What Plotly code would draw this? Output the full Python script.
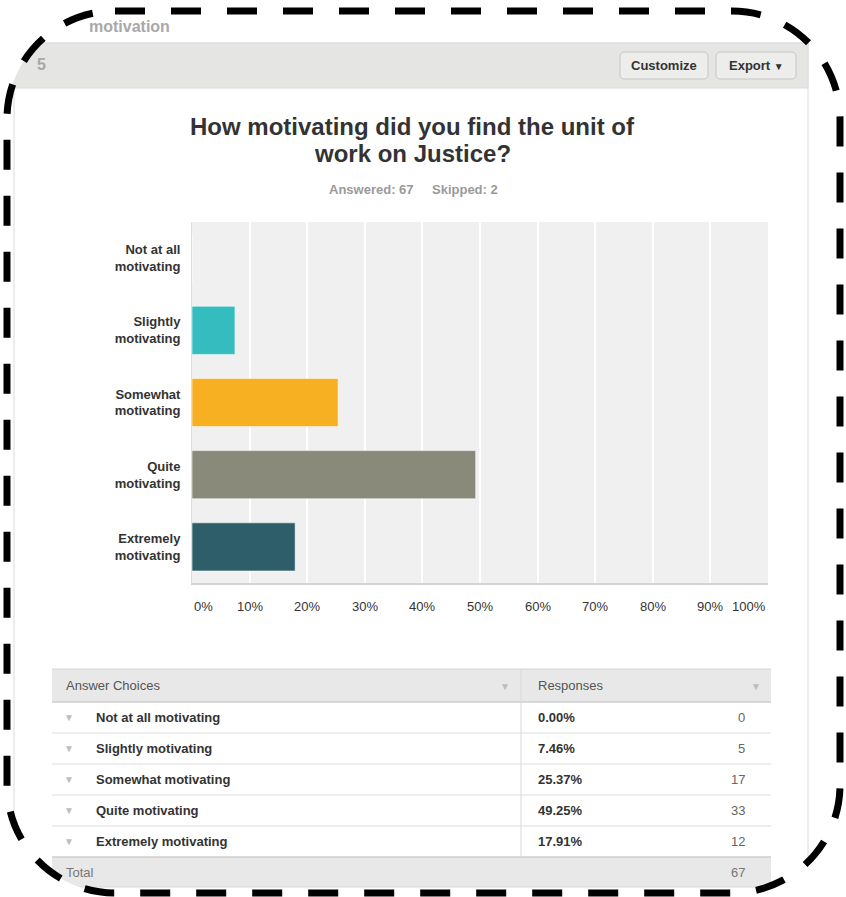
import plotly.graph_objects as go

W, H = 846, 897
OFF = 0  # body margin removed by post_script

# ---------------- data ----------------
categories = ["Not at all motivating", "Slightly motivating", "Somewhat motivating",
              "Quite motivating", "Extremely motivating"]
axis_labels = ["Not at all<br>motivating", "Slightly<br>motivating", "Somewhat<br>motivating",
               "Quite<br>motivating", "Extremely<br>motivating"]
percent_values = [0.00, 7.46, 25.37, 49.25, 17.91]
percent_text = ["0.00%", "7.46%", "25.37%", "49.25%", "17.91%"]
counts = [0, 5, 17, 33, 12]
total = 67
answered, skipped = 67, 2
bar_colors = ["#34bcbe", "#34bcbe", "#f7b022", "#8a8a7a", "#2e5e6a"]
x_ticks = [0, 10, 20, 30, 40, 50, 60, 70, 80, 90, 100]
title_lines = ["How motivating did you find the unit of", "work on Justice?"]

FONT = "Liberation Sans, Arial, sans-serif"


def X(px):
    return (px - OFF) / W


def Y(py):
    return 1 - (py - OFF) / H


def rr_path(x0, y0, x1, y1, r):
    k = 0.5523 * r
    pts = [
        ("M", [(x0 + r, y0)]),
        ("L", [(x1 - r, y0)]),
        ("C", [(x1 - r + k, y0), (x1, y0 + r - k), (x1, y0 + r)]),
        ("L", [(x1, y1 - r)]),
        ("C", [(x1, y1 - r + k), (x1 - r + k, y1), (x1 - r, y1)]),
        ("L", [(x0 + r, y1)]),
        ("C", [(x0 + r - k, y1), (x0, y1 - r + k), (x0, y1 - r)]),
        ("L", [(x0, y0 + r)]),
        ("C", [(x0, y0 + r - k), (x0 + r - k, y0), (x0 + r, y0)]),
    ]
    s = ""
    for cmd, ps in pts:
        s += cmd + " " + " ".join(f"{X(a):.5f},{Y(b):.5f}" for a, b in ps) + " "
    return s + "Z"


def rect(x0, y0, x1, y1, fill, line="rgba(0,0,0,0)", lw=0, layer="below"):
    return dict(type="rect", xref="paper", yref="paper", x0=X(x0), x1=X(x1),
                y0=Y(y1), y1=Y(y0), fillcolor=fill, line=dict(color=line, width=lw), layer=layer)


def hline(y, x0, x1, color, w=1, layer="below"):
    return dict(type="line", xref="paper", yref="paper", x0=X(x0), x1=X(x1), y0=Y(y), y1=Y(y),
                line=dict(color=color, width=w), layer=layer)


def vline(x, y0, y1, color, w=1, layer="below"):
    return dict(type="line", xref="paper", yref="paper", x0=X(x), x1=X(x), y0=Y(y0), y1=Y(y1),
                line=dict(color=color, width=w), layer=layer)


def text(s, x, y, size=13, color="#333", bold=False, xanchor="left", yanchor="middle", align="left"):
    if bold:
        s = "<b>" + s + "</b>"
    return dict(text=s, x=X(x), y=Y(y), xref="paper", yref="paper", showarrow=False,
                xanchor=xanchor, yanchor=yanchor, align=align,
                font=dict(family=FONT, size=size, color=color))


PL, PR, PT, PB = 192, 768, 222, 583

fig = go.Figure()
fig.add_trace(go.Bar(
    y=categories, x=percent_values, orientation="h", width=0.667,
    marker=dict(color=bar_colors, line=dict(color="rgba(255,255,255,0.55)", width=1)),
    hoverinfo="skip",
))

shapes = []
# card
shapes.append(rect(14, 43, 808, 960, "#ffffff", "#dcdcdc", 1))
shapes.append(rect(14, 43, 808, 88, "#e5e5e3", "#dcdcdc", 1))
# buttons
for bx0, bx1 in [(620, 708), (716, 796)]:
    shapes.append(dict(type="path", xref="paper", yref="paper", path=rr_path(bx0, 52, bx1, 79, 4),
                       fillcolor="#ededeb", line=dict(color="#c6c6c4", width=1), layer="below"))
# plot background
shapes.append(rect(PL, PT, PR, PB, "#f0f0f0"))
# table
TL, TR, TD = 52, 771, 521
shapes.append(rect(TL, 669, TR, 702, "#e8e8e8"))
shapes.append(rect(TL, 857, TR, 887, "#e8e8e8"))
shapes.append(hline(669, TL, TR, "#d4d4d4", 1))
for yy in [702, 857]:
    shapes.append(hline(yy, TL, TR, "#cfcfcf", 1.5))
for yy in [733, 764, 795, 826]:
    shapes.append(hline(yy, TL, TR, "#dddddd", 1))
shapes.append(hline(887, TL, TR, "#d8d8d8", 1))
shapes.append(vline(TD, 669, 857, "#d8d8d8", 1))

# mask outside dashed border
BX0, BY0, BX1, BY1, BR = 7, 11, 840, 893, 108
inner = rr_path(BX0, BY0, BX1, BY1, BR)
outer = f"M {X(-10)},{Y(-10)} L {X(W+20)},{Y(-10)} L {X(W+20)},{Y(H+20)} L {X(-10)},{Y(H+20)} Z "
shapes.append(dict(type="path", xref="paper", yref="paper", path=outer + inner, fillrule="evenodd",
                   fillcolor="#ffffff", line=dict(width=0), layer="above"))
shapes.append(dict(type="path", xref="paper", yref="paper", path=inner, fillcolor="rgba(0,0,0,0)",
                   line=dict(color="#000000", width=7, dash="30px,26px"), layer="above"))

ann = []
ann.append(text("motivation", 87, 26, 16, "#a8a8a8", True))
ann.append(text("5", 48, 64, 16, "#a8a8a8", True, xanchor="right"))
ann.append(text("Customize", 664, 65.5, 13, "#333", True, xanchor="center"))
ann.append(text("Export <span style='font-size:10px'>\u25BC</span>", 756, 65.5, 13, "#333", True, xanchor="center"))
ann.append(text(title_lines[0], 412, 126, 24, "#333", True, xanchor="center"))
ann.append(text(title_lines[1], 412, 154, 24, "#333", True, xanchor="center"))
ann.append(text(f"Answered: {answered}", 327, 190, 13, "#9a9a9a", True))
ann.append(text(f"Skipped: {skipped}", 430, 190, 13, "#9a9a9a", True))

# x tick labels via axis scale
for i, t in enumerate(x_ticks):
    xa = "left" if i == 0 else ("right" if i == len(x_ticks) - 1 else "center")
    ann.append(dict(text=f"{t}%", x=t, xref="x", y=Y(606), yref="paper", showarrow=False,
                    xanchor=xa, yanchor="middle", font=dict(family=FONT, size=13, color="#333")))

# table text
ann.append(text("Answer Choices", 64, 685.5, 13, "#555"))
ann.append(text("Responses", 536, 685.5, 13, "#555"))
ann.append(text("\u25BC", 505, 686, 10, "#bdbdbd", xanchor="center"))
ann.append(text("\u25BC", 756, 686, 10, "#bdbdbd", xanchor="center"))
row_y = [717.5, 748, 779, 810, 841]
for i, c in enumerate(categories):
    ann.append(text("\u25BC", 69, row_y[i], 10, "#bdbdbd", xanchor="center"))
    ann.append(text(c, 94, row_y[i], 13, "#333", True))
    ann.append(text(percent_text[i], 536, row_y[i], 13, "#333", True))
    ann.append(text(str(counts[i]), 747, row_y[i], 13, "#666", xanchor="right"))
ann.append(text("Total", 64, 872, 13, "#777"))
ann.append(text(str(total), 747, 872, 13, "#777", xanchor="right"))

fig.update_layout(
    width=W, height=H,
    margin=dict(l=0, r=0, t=0, b=0),
    paper_bgcolor="#ffffff", plot_bgcolor="rgba(0,0,0,0)",
    showlegend=False,
    xaxis=dict(domain=[X(PL), X(PR)], range=[0, 100], dtick=10, showgrid=True,
               gridcolor="#ffffff", gridwidth=1.5, zeroline=False, showticklabels=False,
               showline=True, linecolor="#d3d3d3", linewidth=2, fixedrange=True),
    yaxis=dict(domain=[Y(PB), Y(PT)], autorange="reversed", tickmode="array",
               tickvals=categories,
               ticktext=["<b>" + t.replace("<br>", "</b><br><b>") + "</b>" for t in axis_labels],
               showgrid=False, zeroline=False,
               showline=True, linecolor="#dcdcdc", linewidth=1, ticks="", ticklabelstandoff=8,
               tickfont=dict(family=FONT, size=13, color="#333"), fixedrange=True),
    shapes=shapes,
    annotations=ann,
    bargap=0.333,
)

fig.write_html(
    "out.html",
    config={"displayModeBar": False},
    post_script="document.body.style.margin='0';document.body.style.overflow='hidden';",
)
